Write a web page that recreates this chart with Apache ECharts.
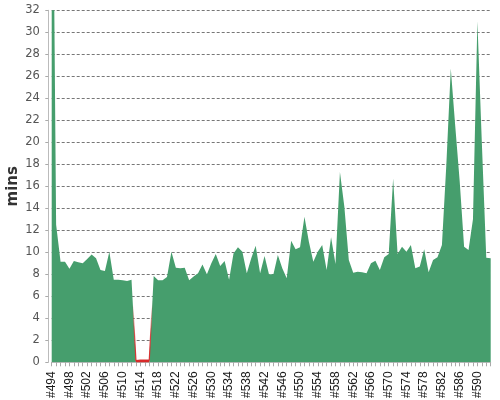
<!DOCTYPE html>
<html>
<head>
<meta charset="utf-8">
<script src="https://cdn.jsdelivr.net/npm/echarts@6/dist/echarts.min.js"></script>
<style>
html,body{margin:0;padding:0;background:#fff;}
#chart{width:500px;height:400px;}
</style>
</head>
<body>
<div id="chart"></div>
<script>
var firstBuild = 494;
var lastBuild = 593;
var builds = [];
for (var b = firstBuild; b <= lastBuild; b++) builds.push('#' + b);

var successMins = [
  60, 12.5, 9.15, 9.15, 8.5, 9.2, 9.1, 9.0, 9.4, 9.8,
  9.45, 8.4, 8.3, 10.06, 7.5, 7.5, 7.45, 7.4, 7.5, 0,
  0, 0, 0, 7.85, 7.45, 7.45, 7.75, 10.06, 8.6, 8.55,
  8.6, 7.45, 7.8, 8.1, 8.9, 8.0, 9.0, 9.85, 8.75, 9.2,
  7.5, 9.9, 10.45, 10.06, 8.1, 9.45, 10.6, 8.1, 9.67, 8.0,
  8.0, 9.76, 8.55, 7.64, 11.06, 10.27, 10.45, 13.24, 10.97, 9.15,
  10.06, 10.67, 8.4, 11.36, 8.94, 17.3, 14.15, 9.3, 8.15, 8.24,
  8.18, 8.1, 9.0, 9.24, 8.4, 9.55, 9.85, 16.7, 9.85, 10.5,
  10.06, 10.67, 8.55, 8.7, 10.27, 8.18, 9.3, 9.55, 10.67, 18,
  26.7, 21.5, 16.5, 10.5, 10.2, 13, 31, 20, 9.5, 9.45
];
// failed builds #513-#516 (others: no failed duration)
var failedMins = [];
for (var i = 0; i < builds.length; i++) failedMins.push('-');
failedMins[18] = 0; failedMins[19] = 0.15; failedMins[20] = 0.2;
failedMins[21] = 0.2; failedMins[22] = 0.2; failedMins[23] = 0;

var yTicks = { min: 0, max: 32, interval: 2 };

var red = '#d82a2a';
var green = '#469e6d';

var chart = echarts.init(document.getElementById('chart'), null, {renderer: 'canvas'});
chart.setOption({
  animation: false,
  backgroundColor: '#ffffff',
  grid: { left: 51.7, right: 9.3, top: 10.3, bottom: 37.7, containLabel: false, outerBoundsMode: 'none' },
  xAxis: {
    type: 'category',
    data: builds,
    boundaryGap: false,
    axisLine: { show: true, lineStyle: { color: '#bbbbbb', width: 1 } },
    axisTick: { show: true, interval: 0, length: 4, lineStyle: { color: '#aaaaaa' } },
    axisLabel: {
      interval: 3, rotate: 90, margin: 9,
      fontFamily: 'Liberation Sans', fontSize: 12, color: '#1a1a1a'
    },
    splitLine: { show: false }
  },
  yAxis: {
    type: 'value',
    min: yTicks.min, max: yTicks.max, interval: yTicks.interval,
    offset: 3.4,
    name: 'mins',
    nameLocation: 'middle',
    nameGap: 28,
    nameRotate: 90,
    nameMoveOverlap: false,
    nameTextStyle: { fontFamily: 'DejaVu Sans', fontSize: 15, fontWeight: 'bold', color: '#333333' },
    axisLine: { show: true, lineStyle: { color: '#bbbbbb', width: 1 } },
    axisTick: { show: true, length: 3, lineStyle: { color: '#aaaaaa' } },
    axisLabel: { fontFamily: 'DejaVu Sans', fontSize: 11.5, color: '#555555', margin: 8.5 },
    splitLine: { show: true, lineStyle: { color: '#777777', type: [3, 2], width: 1 } }
  },
  series: [
    {
      name: 'success', type: 'line', stack: 'total', data: successMins,
      symbol: 'none', smooth: false,
      lineStyle: { width: 0 },
      areaStyle: { color: green, opacity: 1 },
      itemStyle: { color: green },
      z: 2
    },
    {
      name: 'failed', type: 'line', stack: 'total', data: failedMins,
      symbol: 'none', smooth: false, connectNulls: false,
      lineStyle: {
        width: 1.2,
        color: new echarts.graphic.LinearGradient(0, 0, 0, 1, [
          { offset: 0, color: 'rgba(216,42,42,0)' },
          { offset: 0.35, color: 'rgba(216,42,42,0)' },
          { offset: 0.7, color: 'rgba(216,42,42,0.8)' },
          { offset: 1, color: red }
        ])
      },
      areaStyle: { color: red, opacity: 1 },
      itemStyle: { color: red },
      z: 3
    }
  ]
});
</script>
</body>
</html>
